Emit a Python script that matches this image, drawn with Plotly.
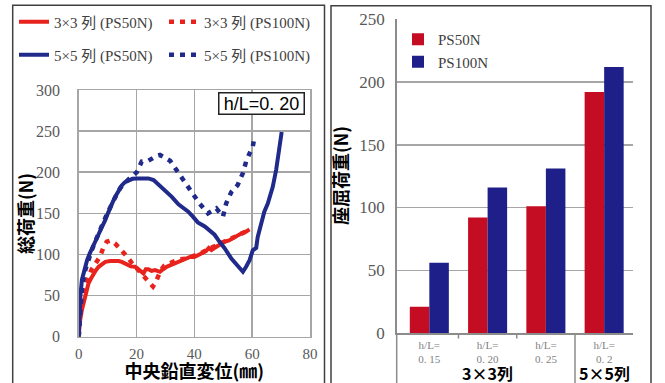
import plotly.graph_objects as go

W, H = 665, 383

# ---------------- data: left chart (load-displacement curves) ----------------
r50_x = [0, 0.4, 1.1, 1.7, 2.3, 2.9, 3.4, 4.3, 5.2, 6.0, 6.9, 8.0, 9.2, 10.9, 12.6, 13.8, 14.9, 15.8, 16.7, 18.0,
         19.5, 20.3, 21.2, 22.4, 23.2, 24.1, 25.2, 26.4, 27.2, 28.1, 29.2, 30.4, 31.8, 33.3, 34.8, 36.2, 37.4,
         38.5, 40.0, 41.2, 42.5, 44.0, 45.0, 45.9, 47.5, 49.0, 50.4, 52.0, 53.5, 55.0, 56.5, 58.0, 59.1]
r50_y = [0, 18, 32.5, 41, 48.6, 57, 65, 71, 77, 81, 85, 88, 91, 92, 92.4, 92, 91, 89, 87, 85.5,
         85, 83, 81, 77, 82, 82, 80, 81, 80, 79, 82, 85, 87, 89, 91, 93, 95,
         97, 97, 99, 101, 104, 108, 105.5, 109, 113, 115.5, 117, 120, 123.7, 126, 128, 130.6]

r100_x = [0, 0.5, 1.0, 2.0, 3.2, 4.5, 5.8, 7.3, 8.5, 9.7, 11.0, 12.5, 14.0, 15.4, 16.8, 18.3, 19.8, 21.3,
          22.5, 23.4, 24.6, 25.7, 26.6, 27.4, 28.3, 29.5, 31.0, 32.6, 34.9, 37.0, 39.5, 42.0, 44.5, 47.0,
          49.5, 52.0, 54.5, 56.5, 58.0]
r100_y = [0, 30, 48.6, 62, 72, 82, 89, 97, 108, 115.5, 117, 113.6, 108, 103, 97, 90, 84, 78,
          73, 69, 64, 61, 66, 73, 80, 86, 89, 91, 94, 95, 98, 101, 106, 110,
          114, 117, 121, 125, 128]

b50_x = [0, 0.2, 0.6, 1.1, 2.0, 2.9, 3.8, 4.6, 5.4, 6.3, 7.2, 8.2, 9.2, 10.1, 10.9, 11.8, 12.6, 13.7, 14.9,
         16.0, 17.2, 18.6, 20.1, 22.0, 24.1, 25.9, 27.3, 28.7, 30.5, 32.2, 34.5, 36.7, 37.9, 39.5, 41.2,
         43.6, 45.3, 47.0, 48.6, 50.4, 52.8, 54.8, 56.8, 57.9, 59.1, 60.2, 61.4, 61.9, 63.1, 64.2, 65.4,
         66.3, 67.1, 68.3, 69.4, 70.2]
b50_y = [0, 28, 50, 69, 82, 93, 101, 108, 113, 120, 127, 134, 142, 150, 158, 164, 170, 177, 184,
         188, 190.5, 192, 192.5, 193, 192.5, 190.5, 186, 182, 176, 170, 161, 155, 152, 146, 139,
         134, 129, 124, 116, 108, 95, 87, 79, 85, 93, 105, 108, 121, 138, 152, 162,
         172, 182, 203, 227, 249]

b100_x = [0, 0.5, 1.2, 2.2, 3.2, 4.3, 5.4, 6.6, 7.8, 9.0, 10.3, 11.6, 13.0, 14.4, 15.9, 17.4, 18.8, 20.1,
          21.8, 24.1, 27.0, 28.1, 31.6, 34.2, 36.8, 39.0, 41.8, 44.7, 47.6, 49.9, 51.0, 52.8, 55.0, 56.8,
          57.9, 59.1, 60.2, 60.8]
b100_y = [0, 38, 62, 80, 92, 103, 113, 124, 133, 143, 153, 163, 172, 181, 187, 192, 196, 200,
          213, 214, 220, 221, 214, 201, 187, 175, 162, 150, 156, 146, 162, 176, 184.5, 199,
          213, 223, 231, 243]

line_names = ["3×3 列 (PS50N)", "3×3 列 (PS100N)", "5×5 列 (PS50N)", "5×5 列 (PS100N)"]

# ---------------- data: right chart (buckling load bars) ----------------
bar_cats = ["h/L=<br>0. 15", "h/L=<br>0. 20", "h/L=<br>0. 25", "h/L=<br>0. 2"]
ps50n = [21, 92, 101, 192]
ps100n = [56, 116, 131, 212]
group_labels = ["3×3列", "5×5列"]

# ---------------- styles ----------------
RED_L = "#e8221c"
BLUE_L = "#1f2a8a"
RED_B = "#c40d22"
BLUE_B = "#1e1f88"
GRID = "#a6a6a6"
TICK = "#595959"
SERIF = "Liberation Serif, Noto Sans CJK JP, serif"
CJKB = "Noto Sans CJK JP, sans-serif"

def px(x):
    return x / W

def py(y):
    return 1 - y / H

fig = go.Figure()

fig.add_trace(go.Scatter(x=r50_x, y=r50_y, mode="lines", name=line_names[0],
                         line=dict(color=RED_L, width=4), legend="legend", xaxis="x", yaxis="y"))
fig.add_trace(go.Scatter(x=r100_x, y=r100_y, mode="lines", name=line_names[1],
                         line=dict(color=RED_L, width=4.5, dash="5px,6px"), legend="legend",
                         xaxis="x", yaxis="y"))
fig.add_trace(go.Scatter(x=b50_x, y=b50_y, mode="lines", name=line_names[2],
                         line=dict(color=BLUE_L, width=4), legend="legend3", xaxis="x", yaxis="y"))
fig.add_trace(go.Scatter(x=b100_x, y=b100_y, mode="lines", name=line_names[3],
                         line=dict(color=BLUE_L, width=4.5, dash="5px,6px"), legend="legend3",
                         xaxis="x", yaxis="y"))

fig.add_trace(go.Bar(x=bar_cats, y=ps50n, name="PS50N", marker=dict(color=RED_B, line=dict(width=0)),
                     legend="legend2", xaxis="x2", yaxis="y2"))
fig.add_trace(go.Bar(x=bar_cats, y=ps100n, name="PS100N", marker=dict(color=BLUE_B, line=dict(width=0)),
                     legend="legend2", xaxis="x2", yaxis="y2"))

# domains
x1d = [px(78.7), px(310)]
y1d = [py(336.7), py(90)]
x2d = [px(396.7), px(632.7)]
y2d = [py(333), py(19.3)]

fig.update_layout(
    width=W, height=H, margin=dict(l=0, r=0, t=0, b=0, autoexpand=False),
    paper_bgcolor="white", plot_bgcolor="white",
    barmode="group", bargap=0.33, bargroupgap=0,
    xaxis=dict(domain=x1d, range=[0, 80], dtick=20, tick0=0, showgrid=True, gridcolor=GRID, gridwidth=1.5,
               zeroline=False, showline=True, mirror=True, linecolor=GRID, linewidth=1.5,
               tickfont=dict(family=SERIF, size=15, color=TICK), ticks="", ticklabelstandoff=3,
               title=dict(text="中央鉛直変位(㎜)", font=dict(family=CJKB, size=18, color="black", weight="bold"),
                          standoff=7),
               anchor="y", fixedrange=True),
    yaxis=dict(domain=y1d, range=[0, 300], dtick=50, tick0=0, showgrid=True, gridcolor=GRID, gridwidth=1.5,
               zeroline=False, showline=True, mirror=True, linecolor=GRID, linewidth=1.5,
               tickfont=dict(family=SERIF, size=16, color=TICK), ticks="", ticklabelstandoff=14,
               anchor="x", fixedrange=True),
    xaxis2=dict(domain=x2d, type="category", range=[-0.56, 3.49], showgrid=False, zeroline=False,
                showline=True, linecolor="#8c8c8c", linewidth=1.5, ticks="",
                tickfont=dict(family=SERIF, size=11, color="#7f7f7f"), ticklabelstandoff=1,
                anchor="y2", fixedrange=True),
    yaxis2=dict(domain=y2d, range=[0, 250], dtick=50, tick0=0, showgrid=True, gridcolor=GRID, gridwidth=1.5,
                zeroline=False, showline=True, linecolor="#8c8c8c", linewidth=1.5, ticks="",
                tickfont=dict(family=SERIF, size=17, color=TICK), ticklabelstandoff=7,
                anchor="x2", fixedrange=True),
    legend=dict(orientation="h", x=px(14), y=py(22), xanchor="left", yanchor="middle",
                font=dict(family=SERIF, size=15, color="#404040"), bgcolor="rgba(0,0,0,0)",
                entrywidth=105, entrywidthmode="pixels", itemwidth=30, borderwidth=0),
    legend3=dict(orientation="h", x=px(14), y=py(55), xanchor="left", yanchor="middle",
                 font=dict(family=SERIF, size=15, color="#404040"), bgcolor="rgba(0,0,0,0)",
                 entrywidth=105, entrywidthmode="pixels", itemwidth=30, borderwidth=0),
    legend2=dict(orientation="v", x=px(398), y=py(23), xanchor="left", yanchor="top",
                 font=dict(family=SERIF, size=15, color="#404040"), bgcolor="rgba(0,0,0,0)",
                 itemwidth=30, borderwidth=0),
    showlegend=True,
)

shapes = []
# panel borders
shapes.append(dict(type="rect", xref="paper", yref="paper", x0=px(12.7), x1=px(324.5), y0=py(395), y1=py(5.3),
                   line=dict(color="#404040", width=1.5), fillcolor="rgba(0,0,0,0)", layer="above"))
shapes.append(dict(type="rect", xref="paper", yref="paper", x0=px(331), x1=px(651), y0=py(395), y1=py(5.8),
                   line=dict(color="#404040", width=1.5), fillcolor="rgba(0,0,0,0)", layer="above"))
# right chart: axis extension and separators
shapes.append(dict(type="line", xref="x2 domain", yref="paper", x0=0, x1=0, y0=py(383), y1=y2d[0],
                   line=dict(color="#8c8c8c", width=1.5)))
for sx in [0.5, 1.5]:
    shapes.append(dict(type="line", xref="x2", yref="paper", x0=sx, x1=sx, y0=py(338.5), y1=y2d[0],
                       line=dict(color="#8c8c8c", width=1.5)))
shapes.append(dict(type="line", xref="x2", yref="paper", x0=2.5, x1=2.5, y0=py(383), y1=y2d[0],
                   line=dict(color="#8c8c8c", width=1.5)))

annotations = []
# y-axis titles
annotations.append(dict(text="総荷重(N)", xref="paper", yref="paper", x=px(25), y=py(214),
                        xanchor="center", yanchor="middle", showarrow=False, textangle=-90,
                        font=dict(family=CJKB, size=18, color="black", weight="bold")))
annotations.append(dict(text="座屈荷重(N)", xref="paper", yref="paper", x=px(340), y=py(176),
                        xanchor="center", yanchor="middle", showarrow=False, textangle=-90,
                        font=dict(family=CJKB, size=18, color="black", weight="bold")))
annotations.append(dict(text="h/L=0. 20", xref="paper", yref="paper", x=px(261.5), y=py(103.5),
                        xanchor="center", yanchor="middle", showarrow=False,
                        font=dict(family="Liberation Sans, Arial, sans-serif", size=18, color="black"),
                        bordercolor="#222222", borderwidth=1.5, borderpad=0, bgcolor="white",
                        width=84, height=20))
annotations.append(dict(text=group_labels[0], xref="x2", yref="paper", x=1, y=py(373),
                        xanchor="center", yanchor="middle", showarrow=False,
                        font=dict(family=CJKB, size=16, color="black", weight="bold")))
annotations.append(dict(text=group_labels[1], xref="x2", yref="paper", x=3, y=py(373),
                        xanchor="center", yanchor="middle", showarrow=False,
                        font=dict(family=CJKB, size=16, color="black", weight="bold")))

fig.update_layout(shapes=shapes, annotations=annotations)

fig.write_html("out.html", config={"displayModeBar": False, "staticPlot": True},
               post_script="document.body.style.margin='0';document.body.style.overflow='hidden';")
